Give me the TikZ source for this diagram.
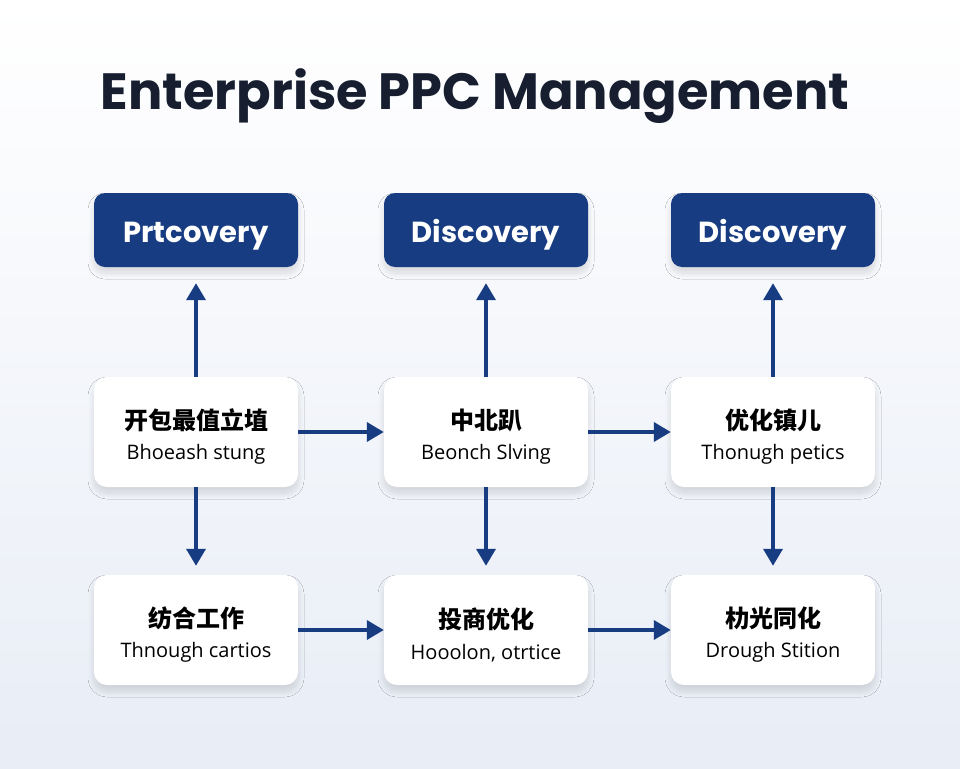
\documentclass[tikz,border=0pt]{standalone}
\usepackage{fontspec}
\setmainfont{Open Sans}
\newfontfamily\titlefont{Poppins}
\newfontfamily\cjk{Noto Sans CJK SC}
\usetikzlibrary{arrows.meta,shadows.blur}
\definecolor{navy}{RGB}{23,60,130}
\definecolor{titlec}{RGB}{22,30,48}
\definecolor{bgbot}{RGB}{232,237,246}
\tikzset{
  softshadow/.style={blur shadow={shadow xshift=0pt, shadow yshift=-6pt, shadow blur steps=12, shadow blur radius=6pt, shadow opacity=13}},
  topbox/.style={draw=none, fill=navy, rounded corners=11pt, minimum width=204pt, minimum height=74pt,
    text height=24pt, text depth=0pt,
    text=white, font=\titlefont\bfseries\fontsize{29}{32}\selectfont, softshadow},
  card/.style={draw=none, fill=white, rounded corners=13pt, minimum width=204pt, minimum height=110pt,
    align=center, text=black, softshadow},
  flow/.style={draw=navy, line width=3.6pt, -{Triangle[width=19pt,length=17pt]}, navy},
}
\newcommand{\cardtext}[2]{\rule{0pt}{28pt}\raisebox{-2pt}{\cjk\bfseries\fontsize{24}{28}\selectfont #1}\\[12pt]{\fontsize{20}{22}\selectfont #2}}
\begin{document}
\begin{tikzpicture}[x=1pt,y=-1pt]
\shade[top color=white, bottom color=bgbot] (0,0) rectangle (960,768);
\useasboundingbox (0,0) rectangle (960,768);
\node[text=titlec, font=\titlefont\bfseries\fontsize{51}{56}\selectfont] (title) at (475,96) {Enterprise PPC Management};

\node[topbox] (t1) at (196,230) {Prtcovery};
\node[topbox] (t2) at (486,230) {Discovery};
\node[topbox] (t3) at (773,230) {Discovery};

\node[card] (m1) at (196,432) {\cardtext{开包最值立埴}{Bhoeash stung}};
\node[card] (m2) at (486,432) {\cardtext{中北趴}{Beonch Slving}};
\node[card] (m3) at (773,432) {\cardtext{优化镇儿}{Thonugh petics}};

\node[card] (b1) at (196,630) {\cardtext{纺合工作}{Thnough cartios}};
\node[card] (b2) at (486,630) {\cardtext{投商优化}{Hooolon, otrtice}};
\node[card] (b3) at (773,630) {\cardtext{朸光同化}{Drough Stition}};

\foreach \i in {1,2,3}{
  \draw[flow, shorten >=16pt] (m\i.north) -- (t\i.south);
  \draw[flow, shorten >=9pt] (m\i.south) -- (b\i.north);
}
\draw[flow] (m1.east) -- (m2.west);
\draw[flow] (m2.east) -- (m3.west);
\draw[flow] (b1.east) -- (b2.west);
\draw[flow] (b2.east) -- (b3.west);
\end{tikzpicture}
\end{document}
